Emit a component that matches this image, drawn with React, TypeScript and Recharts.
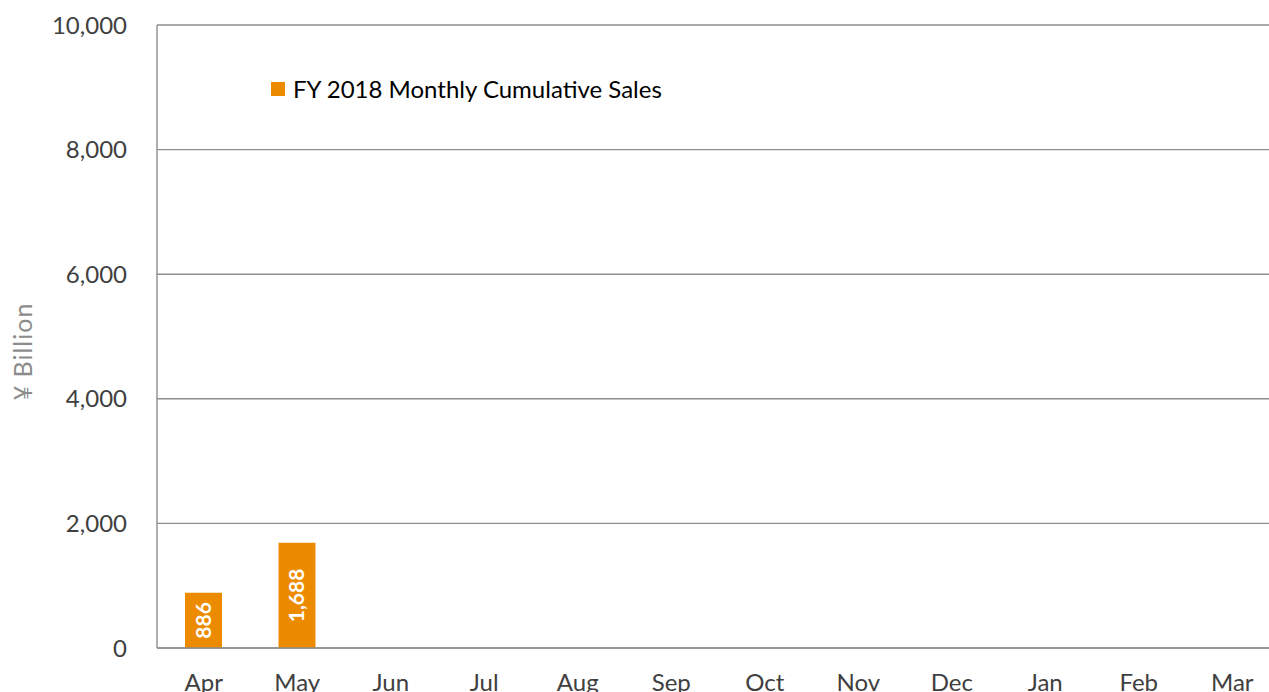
import { BarChart, Bar, XAxis, YAxis, CartesianGrid, Legend, LabelList } from 'recharts'

const months = ['Apr', 'May', 'Jun', 'Jul', 'Aug', 'Sep', 'Oct', 'Nov', 'Dec', 'Jan', 'Feb', 'Mar']
const cumulativeSales: (number | null)[] = [886, 1688, null, null, null, null, null, null, null, null, null, null]
const yTicks = [0, 2000, 4000, 6000, 8000, 10000]

const data = months.map((m, i) => ({ month: m, sales: cumulativeSales[i] }))

const fmt = (v: number) => v.toLocaleString('en-US')

function LegendBox({ payload }: any) {
  return (
    <div style={{ display: 'flex', alignItems: 'center' }}>
      {(payload || []).map((p: any) => (
        <div key={p.value} style={{ display: 'flex', alignItems: 'center' }}>
          <span style={{ width: 14, height: 14, background: p.color, marginRight: 8, display: 'inline-block' }} />
          <span style={{ color: '#000', fontSize: 24 }}>{p.value}</span>
        </div>
      ))}
    </div>
  )
}

export default function App() {
  return (
    <div
      style={{
        position: 'absolute',
        left: 0,
        top: 0,
        width: 1269,
        height: 692,
        overflow: 'hidden',
        background: '#fff',
        fontFamily: 'Lato, sans-serif',
      }}
    >
      <BarChart width={1300} height={720} data={data} margin={{ top: 25, right: 21, bottom: 0, left: 0 }}>
        <CartesianGrid vertical={false} stroke="#8e8e8e" strokeWidth={1.4} />
        <XAxis
          dataKey="month"
          height={72}
          axisLine={{ stroke: '#8e8e8e', strokeWidth: 1.4 }}
          tickLine={false}
          tickSize={0}
          tickMargin={26}
          tick={{ fontSize: 24, fill: '#404040' }}
        />
        <YAxis
          width={157}
          domain={[0, 10000]}
          ticks={yTicks}
          tickFormatter={fmt}
          axisLine={{ stroke: '#8e8e8e', strokeWidth: 1.4 }}
          tickLine={false}
          tickSize={0}
          tickMargin={30}
          tick={{ fontSize: 24, fill: '#404040' }}
          label={({ viewBox }: any) => (
            <text
              x={22}
              y={viewBox.y + viewBox.height / 2 + 15}
              transform={`rotate(-90, 22, ${viewBox.y + viewBox.height / 2 + 15})`}
              textAnchor="middle"
              dominantBaseline="central"
              fontSize={25}
              letterSpacing={1}
              fill="#8c8c8c"
            >
              ¥ Billion
            </text>
          )}
        />
        <Legend
          verticalAlign="middle"
          align="center"
          content={<LegendBox />}
          wrapperStyle={{ top: 74, left: 271, width: 'auto' }}
        />
        <Bar
          dataKey="sales"
          name="FY 2018 Monthly Cumulative Sales"
          fill="#ED8B00"
          barSize={37}
          isAnimationActive={false}
        >
          <LabelList
            dataKey="sales"
            position="center"
            angle={-90}
            formatter={(v: any) => (v == null ? '' : fmt(v))}
            style={{ fill: '#fff', fontWeight: 700, fontSize: 21 }}
          />
        </Bar>
      </BarChart>
    </div>
  )
}
